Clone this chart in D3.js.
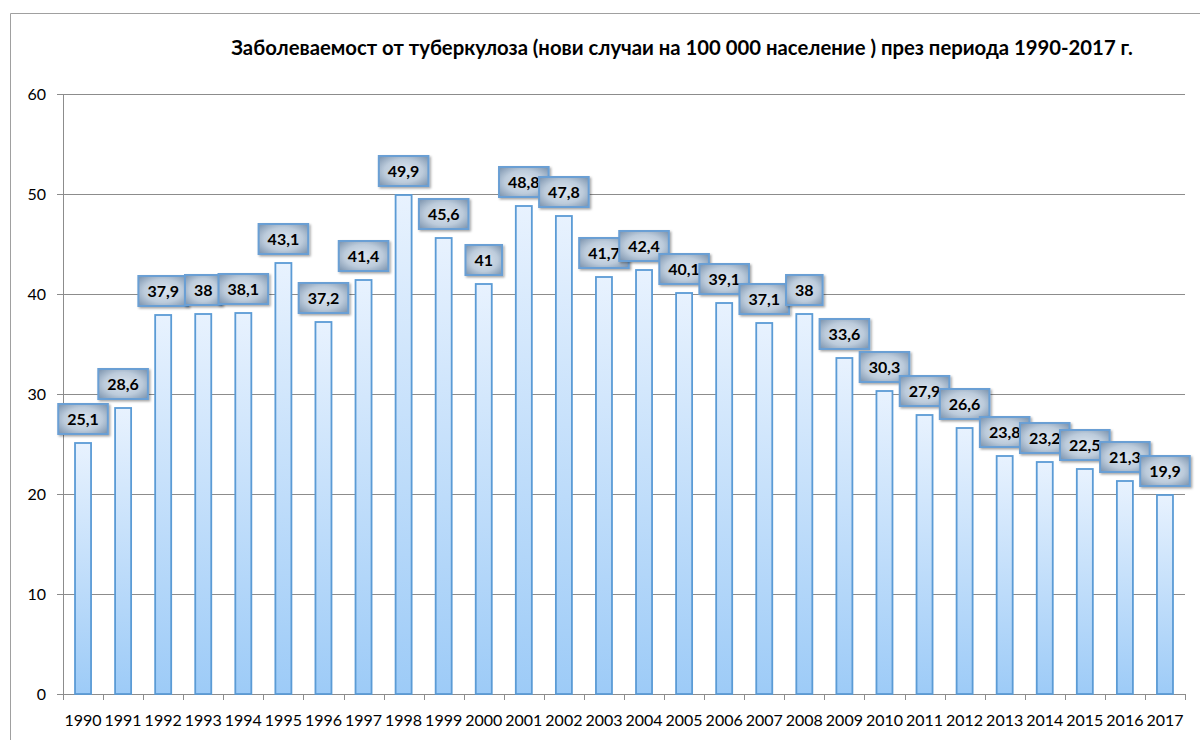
<!DOCTYPE html>
<html>
<head>
<meta charset="utf-8">
<script src="https://cdn.jsdelivr.net/npm/d3@7"></script>
<style>
  body { margin: 0; background: #fff; }
  svg { display: block; }
</style>
</head>
<body>
<div id="container"></div>
<script>
let years = ["1990","1991","1992","1993","1994","1995","1996","1997","1998","1999",
  "2000","2001","2002","2003","2004","2005","2006","2007","2008","2009",
  "2010","2011","2012","2013","2014","2015","2016","2017"];
let values = [25.1, 28.6, 37.9, 38, 38.1, 43.1, 37.2, 41.4, 49.9, 45.6,
  41, 48.8, 47.8, 41.7, 42.4, 40.1, 39.1, 37.1, 38, 33.6,
  30.3, 27.9, 26.6, 23.8, 23.2, 22.5, 21.3, 19.9];
let yTicks = [0, 10, 20, 30, 40, 50, 60];
let title = "Заболеваемост от туберкулоза (нови случаи на 100 000 население ) през периода 1990-2017 г.";

let w = 1200;
let h = 740;
let plotLeft = 63, plotRight = 1185, plotTop = 94, plotBottom = 694;
let font = "Lato, 'Open Sans', sans-serif";

let data = years.map(function(y, i){ return {year: y, value: values[i]}; });

let viz = d3.select("#container")
  .append("svg")
    .attr("width", w)
    .attr("height", h)
;

let defs = viz.append("defs");
let barGrad = defs.append("linearGradient")
    .attr("id", "barGrad")
    .attr("x1", 0).attr("y1", 0).attr("x2", 0).attr("y2", 1);
barGrad.append("stop").attr("offset", "0%").attr("stop-color", "#e8f2fe");
barGrad.append("stop").attr("offset", "100%").attr("stop-color", "#9dcbf7");

let boxGrad = defs.append("radialGradient")
    .attr("id", "boxGrad")
    .attr("cx", "50%").attr("cy", "50%").attr("r", "70%");
boxGrad.append("stop").attr("offset", "0%").attr("stop-color", "#dce5ef");
boxGrad.append("stop").attr("offset", "55%").attr("stop-color", "#bccbdb");
boxGrad.append("stop").attr("offset", "100%").attr("stop-color", "#7890ab");

let shadow = defs.append("filter").attr("id", "shadow")
    .attr("x", "-20%").attr("y", "-20%").attr("width", "150%").attr("height", "150%");
shadow.append("feDropShadow")
    .attr("dx", 1.5).attr("dy", 1.5).attr("stdDeviation", 1.2)
    .attr("flood-color", "#000").attr("flood-opacity", 0.35);

// outer frame
viz.append("path")
    .attr("d", "M10.5," + h + "V13.5H" + w)
    .attr("fill", "none")
    .attr("stroke", "#a0a0a0")
    .attr("stroke-width", 1);

viz.append("text")
    .text(title)
    .attr("x", 682)
    .attr("y", 55)
    .attr("text-anchor", "middle")
    .attr("font-family", font)
    .attr("font-weight", "bold")
    .attr("font-size", "20.3px")
    .attr("fill", "#000");

let xScale = d3.scaleBand().domain(years).range([plotLeft, plotRight]).paddingInner(0.6).paddingOuter(0.3);
let yScale = d3.scaleLinear().domain([0, 60]).range([plotBottom, plotTop]);

// gridlines
viz.append("g")
  .selectAll("line")
  .data(yTicks)
  .enter()
  .append("line")
    .attr("x1", plotLeft - 6)
    .attr("x2", plotRight)
    .attr("y1", function(d){ return Math.round(yScale(d)) + 0.5; })
    .attr("y2", function(d){ return Math.round(yScale(d)) + 0.5; })
    .attr("stroke", "#8c8c8c")
    .attr("stroke-width", 1);

viz.append("line")
    .attr("x1", plotLeft + 0.5).attr("x2", plotLeft + 0.5)
    .attr("y1", plotTop).attr("y2", plotBottom)
    .attr("stroke", "#8c8c8c");

viz.append("g")
  .selectAll("text")
  .data(yTicks)
  .enter()
  .append("text")
    .text(function(d){ return d; })
    .attr("x", 46)
    .attr("y", function(d){ return yScale(d) + 6; })
    .attr("text-anchor", "end")
    .attr("font-family", font)
    .attr("font-size", "16px")
    .attr("fill", "#000");

// x ticks at category boundaries
let step = xScale.step();
let xTicks = d3.range(years.length + 1);
viz.append("g")
  .selectAll("line")
  .data(xTicks)
  .enter()
  .append("line")
    .attr("x1", function(d){ return Math.round(plotLeft + d * step) + 0.5; })
    .attr("x2", function(d){ return Math.round(plotLeft + d * step) + 0.5; })
    .attr("y1", plotBottom)
    .attr("y2", plotBottom + 6)
    .attr("stroke", "#8c8c8c");

viz.append("g")
  .selectAll("text")
  .data(years)
  .enter()
  .append("text")
    .text(function(d){ return d; })
    .attr("x", function(d){ return xScale(d) + xScale.bandwidth() / 2; })
    .attr("y", 726)
    .attr("text-anchor", "middle")
    .attr("font-family", font)
    .attr("font-size", "16px")
    .attr("fill", "#000");

// bars
viz.append("g")
  .selectAll("rect")
  .data(data)
  .enter()
  .append("rect")
    .attr("x", function(d){ return xScale(d.year); })
    .attr("y", function(d){ return yScale(d.value); })
    .attr("width", xScale.bandwidth())
    .attr("height", function(d){ return plotBottom - yScale(d.value); })
    .attr("fill", "url(#barGrad)")
    .attr("stroke", "#5b9bd5")
    .attr("stroke-width", 1.8);

// value labels
let labels = viz.append("g")
  .selectAll("g")
  .data(data)
  .enter()
  .append("g")
    .attr("transform", function(d){
      let cx = xScale(d.year) + xScale.bandwidth() / 2;
      return "translate(" + cx + "," + (yScale(d.value) - 24) + ")";
    });

labels.each(function(d){
  let g = d3.select(this);
  let txt = String(d.value).replace(".", ",");
  let t = g.append("text")
      .text(txt)
      .attr("text-anchor", "middle")
      .attr("y", 6)
      .attr("font-family", font)
      .attr("font-weight", "bold")
      .attr("font-size", "16px")
      .attr("fill", "#000");
  let bw = t.node().getComputedTextLength() + 18;
  g.insert("rect", "text")
      .attr("x", -bw / 2)
      .attr("y", -15)
      .attr("width", bw)
      .attr("height", 30)
      .attr("fill", "url(#boxGrad)")
      .attr("stroke", "#6a9fd4")
      .attr("stroke-width", 2)
      .attr("filter", "url(#shadow)");
});
</script>
</body>
</html>
